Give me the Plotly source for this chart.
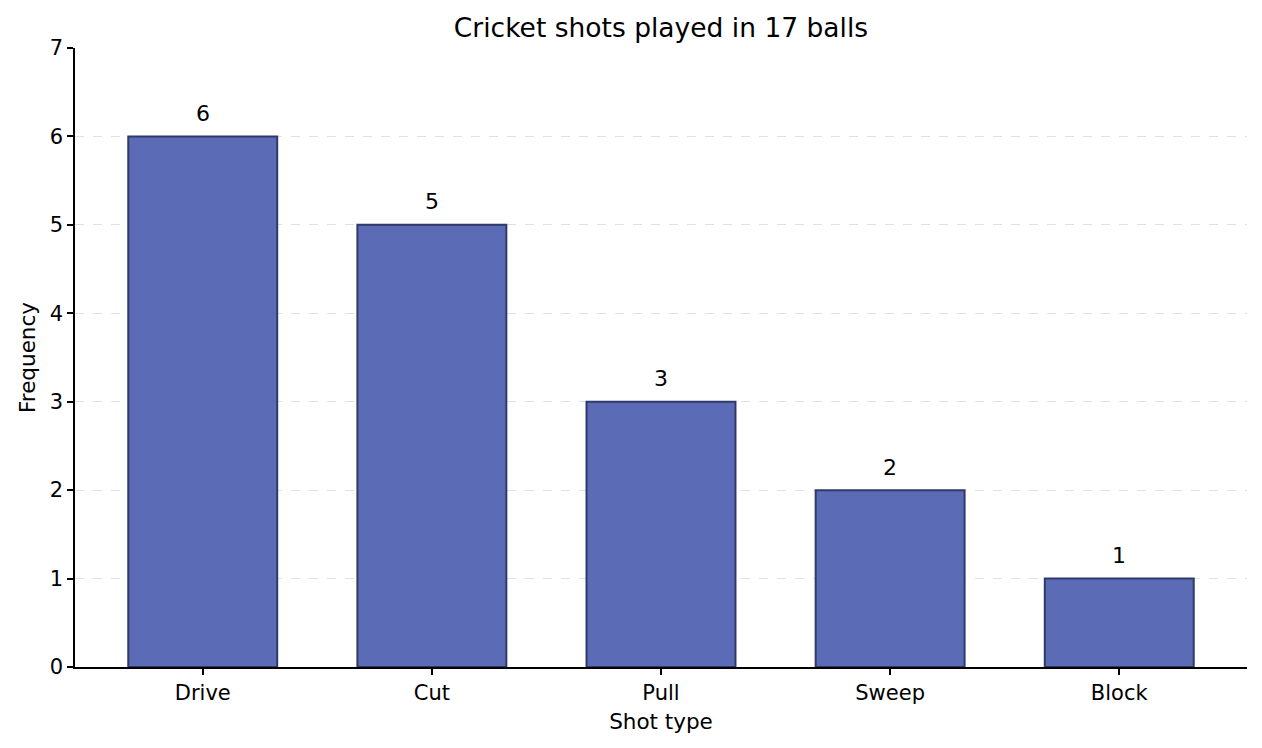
import plotly.graph_objects as go

shots = ["Drive", "Cut", "Pull", "Sweep", "Block"]
counts = [6, 5, 3, 2, 1]
y_ticks = [0, 1, 2, 3, 4, 5, 6, 7]

font = "DejaVu Sans"

fig = go.Figure()
fig.add_trace(go.Bar(
    x=shots,
    y=counts,
    width=0.65,
    marker=dict(color="#5c6bb5", line=dict(color="#2f3a6b", width=2)),
    hoverinfo="x+y",
))

# count labels above each bar
for s, c in zip(shots, counts):
    fig.add_annotation(x=s, y=c, text=str(c), showarrow=False,
                       yshift=23, font=dict(family=font, size=22, color="black"))

fig.update_xaxes(
    title_text="Shot type", title_font=dict(family=font, size=21.5, color="black"),
    title_standoff=10,
    range=[-0.5575, 4.5575],
    showline=True, linecolor="black", linewidth=1.5,
    ticks="outside", ticklen=6, tickwidth=1.5, tickcolor="black",
    tickfont=dict(family=font, size=21, color="black"),
    showgrid=False, zeroline=False,
)
fig.update_yaxes(
    title_text="Frequency", title_font=dict(family=font, size=21.5, color="black"),
    title_standoff=8,
    range=[0, 7], tickvals=y_ticks,
    showline=True, linecolor="black", linewidth=1.5,
    ticks="outside", ticklen=6, tickwidth=1.5, tickcolor="black",
    tickfont=dict(family=font, size=21, color="black"),
    showgrid=True, gridcolor="#e0e0e0", griddash="dash", gridwidth=1,
    zeroline=False,
)
# the page keeps an 8px body margin, so the figure is 8px smaller and shifted
fig.update_layout(
    title=dict(text="Cricket shots played in 17 balls", xref="paper", x=0.5,
               xanchor="center", y=0.973, yanchor="middle",
               font=dict(family=font, size=26.5, color="black")),
    width=1254, height=740,
    margin=dict(l=67, r=15, t=40, b=81),
    plot_bgcolor="white", paper_bgcolor="white",
    showlegend=False,
)
fig.write_html("out.html")
